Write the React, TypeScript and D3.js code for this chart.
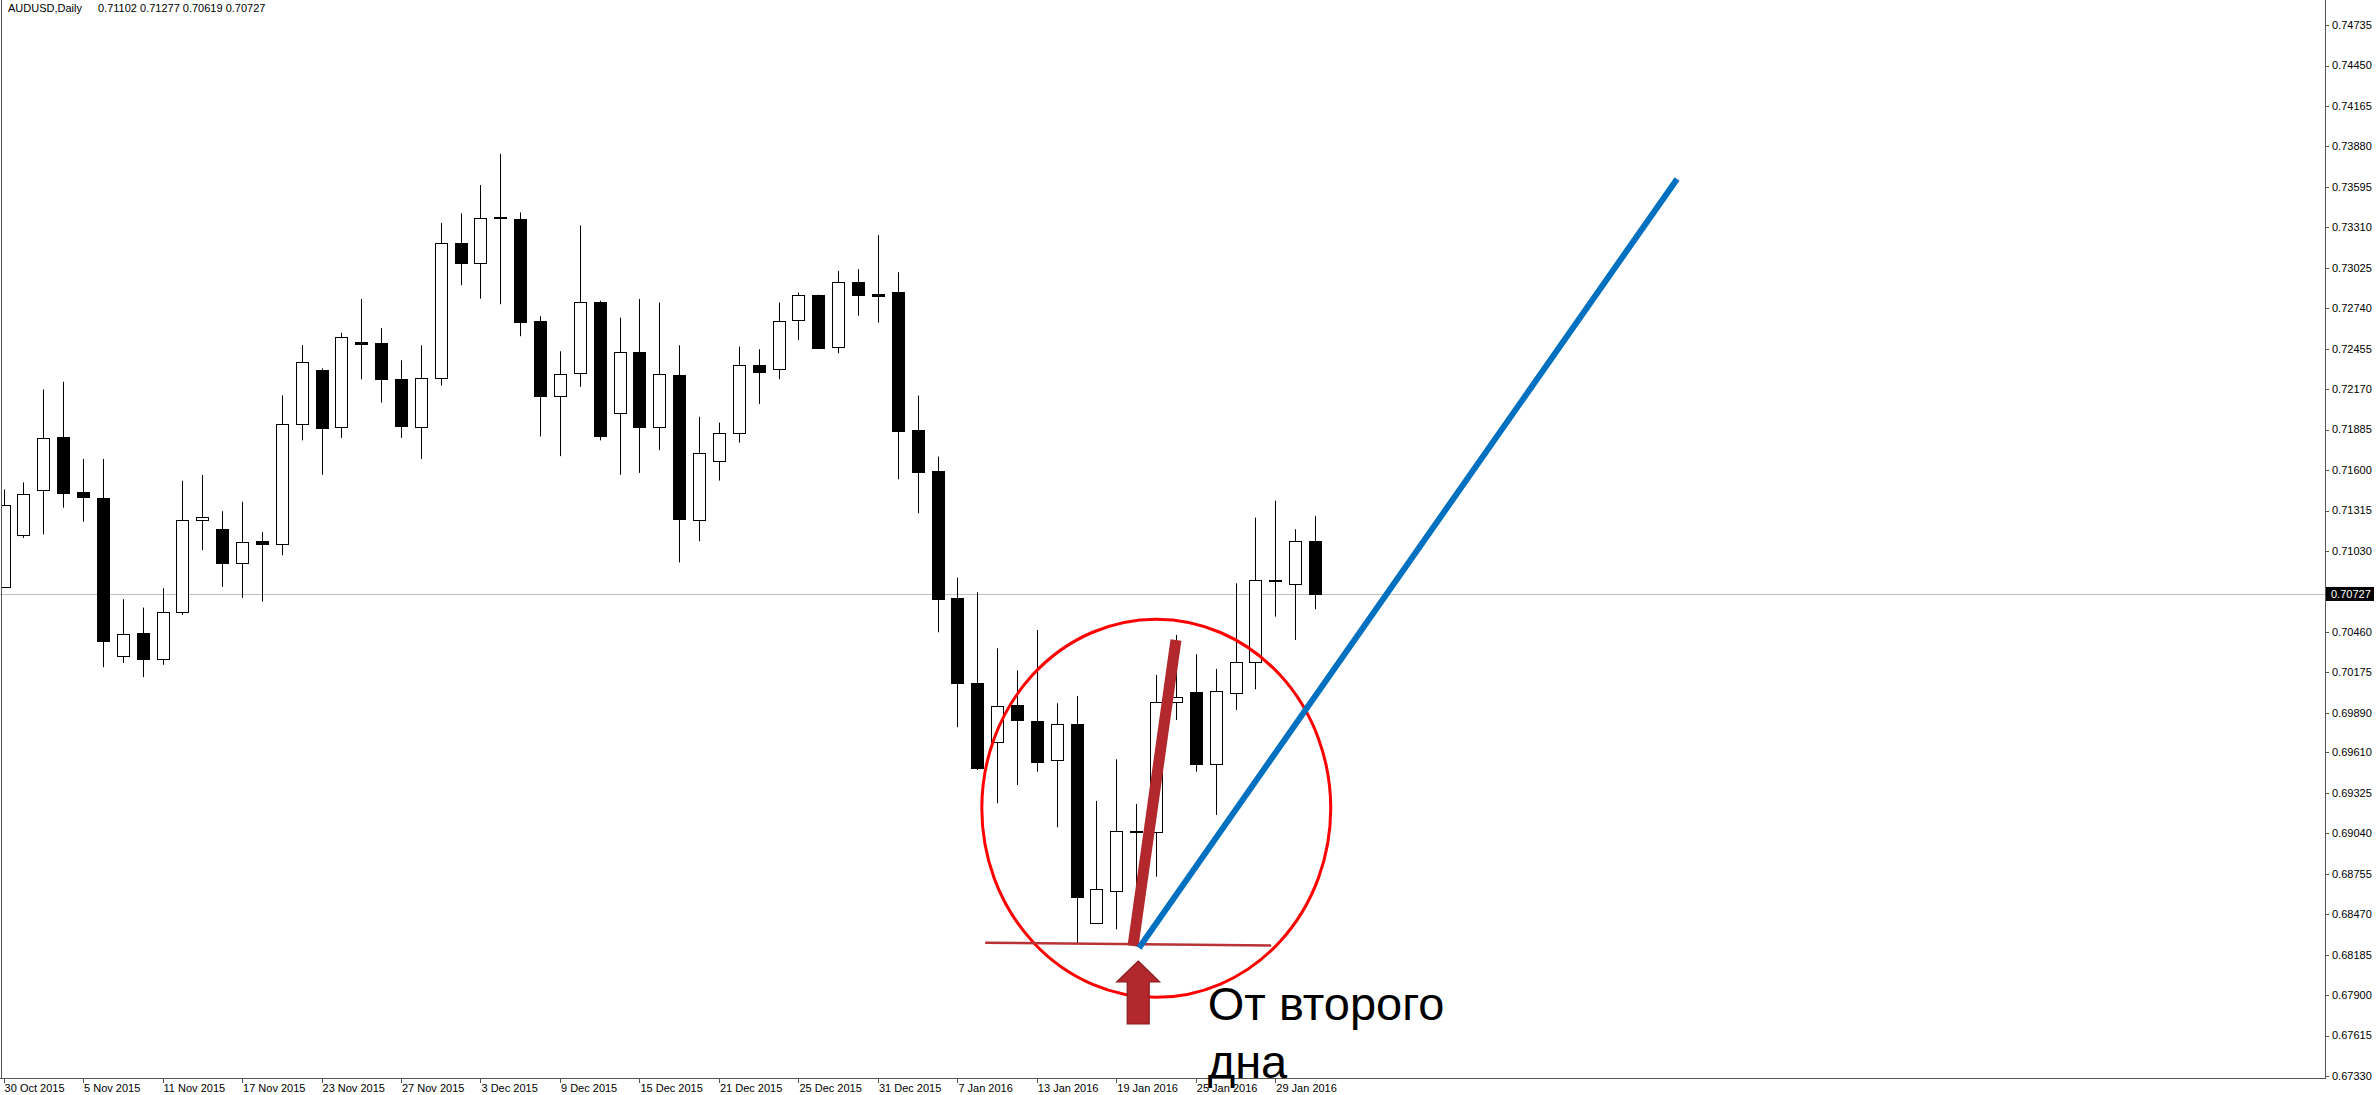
import React from 'react';
import * as d3 from 'd3';

// ---------- DATA ----------
const dates = [
  '2015-10-30',
  '2015-11-02', '2015-11-03', '2015-11-04', '2015-11-05', '2015-11-06',
  '2015-11-09', '2015-11-10', '2015-11-11', '2015-11-12', '2015-11-13',
  '2015-11-16', '2015-11-17', '2015-11-18', '2015-11-19', '2015-11-20',
  '2015-11-23', '2015-11-24', '2015-11-25', '2015-11-26', '2015-11-27',
  '2015-11-30', '2015-12-01', '2015-12-02', '2015-12-03', '2015-12-04',
  '2015-12-07', '2015-12-08', '2015-12-09', '2015-12-10', '2015-12-11',
  '2015-12-14', '2015-12-15', '2015-12-16', '2015-12-17', '2015-12-18',
  '2015-12-21', '2015-12-22', '2015-12-23', '2015-12-24', '2015-12-25',
  '2015-12-28', '2015-12-29', '2015-12-30', '2015-12-31',
  '2016-01-04', '2016-01-05', '2016-01-06', '2016-01-07', '2016-01-08',
  '2016-01-11', '2016-01-12', '2016-01-13', '2016-01-14', '2016-01-15',
  '2016-01-18', '2016-01-19', '2016-01-20', '2016-01-21', '2016-01-22',
  '2016-01-25', '2016-01-26', '2016-01-27', '2016-01-28', '2016-01-29',
  '2016-02-01', '2016-02-02',
];

const opens = [
  0.70776, 0.71142, 0.71456, 0.71832, 0.71446, 0.71402, 0.70290, 0.70455, 0.70272, 0.70599,
  0.71246, 0.71187, 0.70942, 0.71100, 0.71080, 0.71925, 0.72306, 0.71906, 0.72504, 0.72496,
  0.72244, 0.71906, 0.72252, 0.73200, 0.73062, 0.73378, 0.73371, 0.72647, 0.72121, 0.72286,
  0.72785, 0.72000, 0.72434, 0.71906, 0.72269, 0.71246, 0.71664, 0.71864, 0.72341, 0.72310,
  0.72656, 0.72832, 0.72465, 0.72926, 0.72838, 0.72851, 0.71883, 0.71591, 0.70696, 0.70102,
  0.69687, 0.69947, 0.69835, 0.69557, 0.69811, 0.68411, 0.68637, 0.69060, 0.69053, 0.69964,
  0.70034, 0.69529, 0.70032, 0.70246, 0.70826, 0.70798, 0.71102,
];
const highs = [
  0.71463, 0.71513, 0.72168, 0.72222, 0.71678, 0.71678, 0.70690, 0.70631, 0.70767, 0.71525,
  0.71565, 0.71310, 0.71377, 0.71164, 0.72126, 0.72481, 0.72316, 0.72568, 0.72805, 0.72600,
  0.72373, 0.72479, 0.73341, 0.73408, 0.73608, 0.73828, 0.73415, 0.72684, 0.72437, 0.73324,
  0.72793, 0.72674, 0.72805, 0.72780, 0.72479, 0.71975, 0.71934, 0.72470, 0.72451, 0.72780,
  0.72851, 0.72836, 0.73003, 0.73015, 0.73255, 0.72994, 0.72125, 0.71695, 0.70842, 0.70739,
  0.70344, 0.70189, 0.70473, 0.69957, 0.70008, 0.69269, 0.69562, 0.69247, 0.70156, 0.70438,
  0.70302, 0.70199, 0.70802, 0.71265, 0.71385, 0.71183, 0.71277,
];
const lows = [
  0.70771, 0.71122, 0.71147, 0.71335, 0.71236, 0.70211, 0.70240, 0.70141, 0.70228, 0.70579,
  0.71036, 0.70776, 0.70700, 0.70673, 0.70999, 0.71809, 0.71567, 0.71827, 0.72239, 0.72076,
  0.71827, 0.71678, 0.72195, 0.72902, 0.72808, 0.72768, 0.72543, 0.71837, 0.71698, 0.72187,
  0.71809, 0.71567, 0.71580, 0.71740, 0.70949, 0.71098, 0.71526, 0.71793, 0.72066, 0.72240,
  0.72515, 0.72456, 0.72423, 0.72688, 0.72639, 0.71535, 0.71296, 0.70457, 0.69788, 0.69487,
  0.69252, 0.69381, 0.69475, 0.69083, 0.68266, 0.68405, 0.68364, 0.68270, 0.68735, 0.69839,
  0.69475, 0.69170, 0.69910, 0.70055, 0.70567, 0.70403, 0.70619,
];
const closes = [
  0.71357, 0.71434, 0.71829, 0.71439, 0.71407, 0.70398, 0.70445, 0.70272, 0.70601, 0.71246,
  0.71266, 0.70942, 0.71090, 0.71080, 0.71925, 0.72358, 0.71896, 0.72536, 0.72491, 0.72239,
  0.71913, 0.72252, 0.73200, 0.73057, 0.73378, 0.73386, 0.72645, 0.72121, 0.72279, 0.72785,
  0.71837, 0.72434, 0.71906, 0.72279, 0.71253, 0.71718, 0.71864, 0.72338, 0.72291, 0.72649,
  0.72832, 0.72463, 0.72926, 0.72836, 0.72829, 0.71878, 0.71587, 0.70690, 0.70098, 0.69501,
  0.69938, 0.69839, 0.69546, 0.69811, 0.68595, 0.68646, 0.69060, 0.69055, 0.69964, 0.70004,
  0.69529, 0.70044, 0.70248, 0.70826, 0.70822, 0.71100, 0.70727,
];

const priceTicks = [
  0.74735, 0.74450, 0.74165, 0.73880, 0.73595, 0.73310, 0.73025, 0.72740, 0.72455,
  0.72170, 0.71885, 0.71600, 0.71315, 0.71030, 0.70460, 0.70175, 0.69890, 0.69610,
  0.69325, 0.69040, 0.68755, 0.68470, 0.68185, 0.67900, 0.67615, 0.67330,
];
const dateTickIndices = [0, 4, 8, 12, 16, 20, 24, 28, 32, 36, 40, 44, 48, 52, 56, 60, 64];

const lastPrice = 0.70727;
const headerSymbol = 'AUDUSD,Daily';
const headerValues = [0.71102, 0.71277, 0.70619, 0.70727];
const annotationLines = ['От второго', 'дна'];

// annotations in data space: [bar index, price]
const supportLine = [[49.4, 0.6827], [63.8, 0.6825]];
const impulseLine = [[56.84, 0.68247], [59.0, 0.70403]];
const trendLine = [[57.14, 0.68233], [84.22, 0.73651]];
const ellipseIdx = [49.23, 66.79];
const ellipsePrice = [0.70549, 0.67885];
const arrowTip = [57.1, 0.68141];
const textAnchor = [60.6, 0.67726];

// ---------- LAYOUT ----------
const W = 2376;
const H = 1095;
const plotRight = 2325;
const plotBottom = 1078;
const FONT = '"Liberation Sans", Arial, sans-serif';

export default function App() {
  const x = d3.scaleLinear().domain([0, 64]).range([3.6, 1275.3]);
  const y = d3.scaleLinear().domain([0.6733, 0.74735]).range([1076.1, 25.1]);
  const parse = d3.timeParse('%Y-%m-%d');
  const fmt = d3.timeFormat('%-d %b %Y');
  const line = d3.line<number[]>().x((d) => x(d[0])).y((d) => y(d[1]));

  const bodyW = 13;
  const candles = dates.map((d, i) => {
    const o = opens[i], h = highs[i], l = lows[i], c = closes[i];
    const cx = Math.round(x(i)) + 0.5;
    const up = c >= o;
    const top = Math.round(y(Math.max(o, c)));
    const bot = Math.round(y(Math.min(o, c)));
    const bh = Math.max(1, bot - top);
    return (
      <g key={d}>
        <line x1={cx} x2={cx} y1={y(h)} y2={y(l)} stroke="#000" strokeWidth={1} />
        {up ? (
          <rect x={cx - 6} y={top + 0.5} width={bodyW - 1} height={Math.max(1, bh)} fill="#fff" stroke="#000" strokeWidth={1} />
        ) : (
          <rect x={cx - 6.5} y={top} width={bodyW} height={bh + 1} fill="#000" />
        )}
      </g>
    );
  });

  const tip = [x(arrowTip[0]), y(arrowTip[1])];
  const arrowPath = d3.path();
  arrowPath.moveTo(tip[0], tip[1]);
  arrowPath.lineTo(tip[0] + 21.5, tip[1] + 21);
  arrowPath.lineTo(tip[0] + 11, tip[1] + 21);
  arrowPath.lineTo(tip[0] + 11, tip[1] + 63);
  arrowPath.lineTo(tip[0] - 11, tip[1] + 63);
  arrowPath.lineTo(tip[0] - 11, tip[1] + 21);
  arrowPath.lineTo(tip[0] - 21.5, tip[1] + 21);
  arrowPath.closePath();

  const ex0 = x(ellipseIdx[0]), ex1 = x(ellipseIdx[1]);
  const ey0 = y(ellipsePrice[0]), ey1 = y(ellipsePrice[1]);

  return (
    <svg width={W} height={H} style={{ position: 'absolute', left: 0, top: 0, background: '#fff' }} fontFamily={FONT}>
      <rect x={0} y={0} width={W} height={H} fill="#fff" />
      <defs>
        <clipPath id="plot">
          <rect x={2} y={0} width={plotRight - 2} height={plotBottom} />
        </clipPath>
      </defs>

      {/* current price line */}
      <line x1={0} x2={plotRight} y1={Math.round(y(lastPrice)) + 0.5} y2={Math.round(y(lastPrice)) + 0.5} stroke="#c0c0c0" strokeWidth={1} />

      <g clipPath="url(#plot)">{candles}</g>

      {/* frame */}
      <line x1={1.5} x2={1.5} y1={0} y2={plotBottom} stroke="#555" strokeWidth={1} />
      <line x1={plotRight + 0.5} x2={plotRight + 0.5} y1={0} y2={plotBottom} stroke="#555" strokeWidth={1} />
      <line x1={0} x2={plotRight + 1} y1={plotBottom + 0.5} y2={plotBottom + 0.5} stroke="#555" strokeWidth={1} />

      {/* price axis */}
      {priceTicks.map((p) => (
        <g key={p}>
          <line x1={plotRight} x2={plotRight + 4} y1={Math.round(y(p)) + 0.5} y2={Math.round(y(p)) + 0.5} stroke="#555" />
          <text x={plotRight + 7} y={y(p)} dy="0.35em" fontSize={11} fill="#000">{p.toFixed(5)}</text>
        </g>
      ))}
      <rect x={plotRight + 1} y={y(lastPrice) - 7} width={48} height={14} fill="#000" />
      <text x={plotRight + 6} y={y(lastPrice)} dy="0.35em" fontSize={11} fill="#fff">{lastPrice.toFixed(5)}</text>

      {/* date axis */}
      {dateTickIndices.map((i) => (
        <g key={i}>
          <line x1={Math.round(x(i)) + 0.5} x2={Math.round(x(i)) + 0.5} y1={plotBottom} y2={plotBottom + 5} stroke="#555" />
          <text x={x(i) + 1} y={1092} fontSize={11} fill="#000">{fmt(parse(dates[i]) as Date)}</text>
        </g>
      ))}

      {/* header */}
      <text x={8} y={12} fontSize={11} fill="#000">{headerSymbol}</text>
      <text x={98} y={12} fontSize={11} fill="#000">{headerValues.map((v) => v.toFixed(5)).join(' ')}</text>

      {/* annotations */}
      <ellipse cx={(ex0 + ex1) / 2} cy={(ey0 + ey1) / 2} rx={(ex1 - ex0) / 2} ry={(ey1 - ey0) / 2} fill="none" stroke="#ff0000" strokeWidth={3} />
      <path d={line(supportLine as number[][]) || ''} stroke="#b83236" strokeWidth={2.5} fill="none" />
      <path d={line(impulseLine as number[][]) || ''} stroke="#b3282d" strokeWidth={11} fill="none" />
      <path d={line(trendLine as number[][]) || ''} stroke="#0070c0" strokeWidth={6} fill="none" />
      <path d={arrowPath.toString()} fill="#b3282d" stroke="#8a1c21" strokeWidth={1.2} />
      <text x={x(textAnchor[0])} y={y(textAnchor[1])} fontSize={47} fill="#000">
        {annotationLines.map((t, k) => (
          <tspan key={k} x={x(textAnchor[0])} dy={k === 0 ? 0 : 58}>{t}</tspan>
        ))}
      </text>
    </svg>
  );
}
